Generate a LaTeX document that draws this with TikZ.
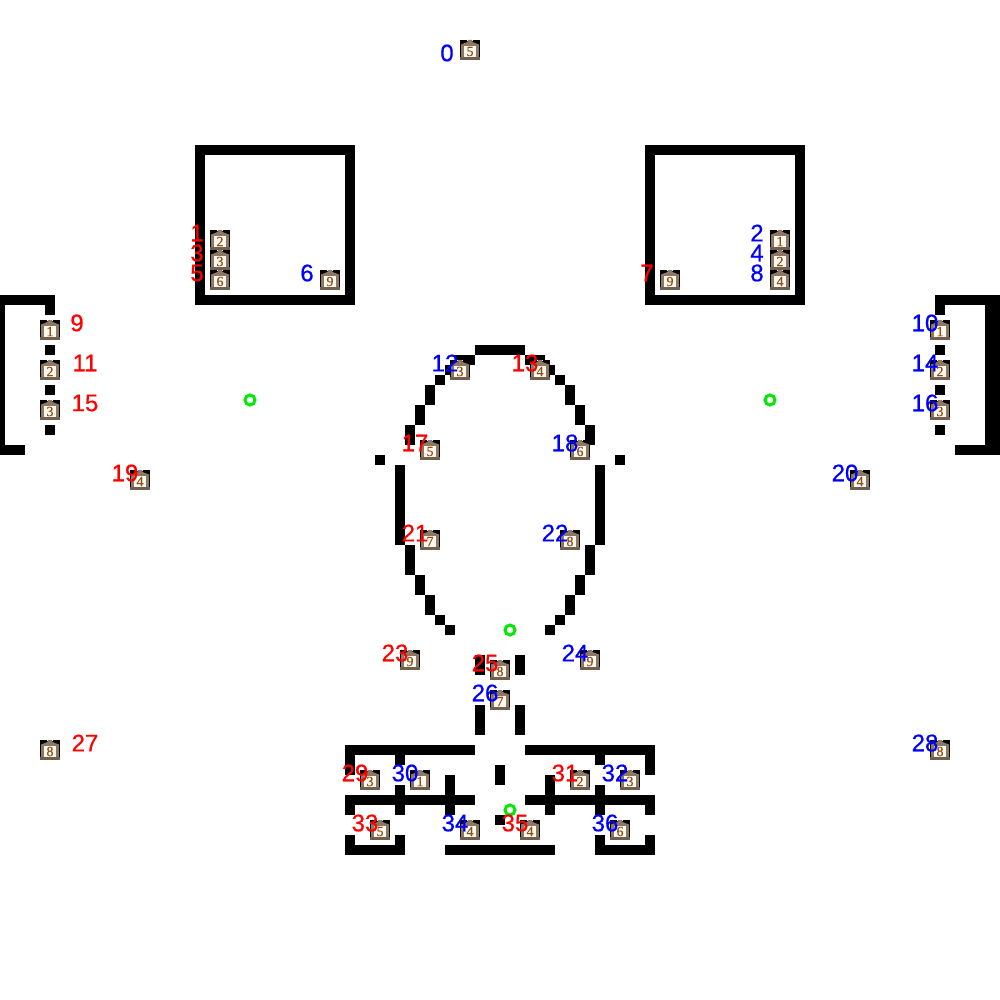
\documentclass[tikz,border=0pt]{standalone}
\usepackage{fontspec}
\setmainfont[FakeBold=0.6]{Liberation Sans}
\newfontfamily\digitfont[FakeBold=0.5]{Liberation Serif}
\definecolor{roofc}{RGB}{140,120,100}
\definecolor{basec}{RGB}{112,94,78}
\definecolor{panelc}{RGB}{255,248,236}
\definecolor{digitc}{RGB}{139,80,25}
\definecolor{ringc}{RGB}{0,235,0}
\tikzset{
  wallpart/.style={fill=black,draw=none},
  ring/.style={circle,draw=ringc,line width=3pt,fill=none,minimum size=10pt,inner sep=0pt},
  redlabel/.style={text=red,font=\fontsize{24}{24}\selectfont,inner sep=0pt},
  bluelabel/.style={text=blue,font=\fontsize{24}{24}\selectfont,inner sep=0pt},
  icondigit/.style={text=digitc,font=\digitfont\fontsize{14}{14}\selectfont,inner sep=0pt}
}
\newcommand{\W}[4]{\fill[wallpart] (#1,#2) rectangle (#3,#4);}
\newcommand{\Mirror}[4]{\W{#1}{#2}{#3}{#4}\W{\numexpr1000-#3\relax}{#2}{\numexpr1000-#1\relax}{#4}}
\newcommand{\Icon}[4]{%
  \begin{scope}[shift={(#2,#3)}]
    \fill[black] (-10,-10) rectangle (10,8);
    \fill[white] (-3,-10) rectangle (3,-9);
    \fill[roofc] (-2,-10) -- (2,-10) -- (2.5,-8) -- (9,-5.5) -- (9,-3) -- (-9,-3) -- (-9,-5.5) -- (-2.5,-8) -- cycle;
    \fill[roofc] (-9,-3) rectangle (9,8);
    \fill[basec] (-10,7) rectangle (10,10);
    \fill[panelc] (-6,-4) rectangle (6,7);
    \node[icondigit] (#1) at (0,1.5) {#4};
  \end{scope}}
\begin{document}
\begin{tikzpicture}[x=1pt,y=-1pt]
\useasboundingbox[fill=white] (0,0) rectangle (1000,1000);
% boxes
\W{195}{145}{355}{155}\W{195}{295}{355}{305}\W{195}{145}{205}{305}\W{345}{145}{355}{305}
\W{645}{145}{805}{155}\W{645}{295}{805}{305}\W{645}{145}{655}{305}\W{795}{145}{805}{305}
% left bracket
\W{0}{295}{55}{305}\W{45}{295}{55}{315}\W{0}{295}{5}{455}\W{0}{445}{25}{455}
\W{45}{345}{55}{355}\W{45}{385}{55}{395}\W{45}{425}{55}{435}
% right bracket
\W{935}{295}{1000}{305}\W{935}{295}{945}{315}\W{985}{295}{1000}{455}\W{955}{445}{1000}{455}
\W{935}{345}{945}{355}\W{935}{385}{945}{395}\W{935}{425}{945}{435}
% oval
\W{475}{345}{525}{355}
\Mirror{455}{355}{475}{365}
\Mirror{445}{365}{455}{375}
\Mirror{435}{375}{445}{385}
\Mirror{425}{385}{435}{405}
\Mirror{415}{405}{425}{425}
\Mirror{405}{425}{415}{445}
\Mirror{375}{455}{385}{465}
\Mirror{395}{465}{405}{545}
\Mirror{405}{545}{415}{575}
\Mirror{415}{575}{425}{595}
\Mirror{425}{595}{435}{615}
\Mirror{435}{615}{445}{625}
\Mirror{445}{625}{455}{635}
% stem
\Mirror{475}{655}{485}{675}
\Mirror{475}{705}{485}{735}
% lower rooms
\Mirror{345}{745}{475}{755}
\Mirror{345}{745}{355}{775}
\Mirror{395}{745}{405}{765}
\Mirror{395}{785}{405}{815}
\Mirror{445}{775}{455}{815}
\Mirror{345}{795}{475}{805}
\Mirror{345}{795}{355}{815}
\W{495}{765}{505}{785}
\W{495}{815}{505}{825}
\Mirror{345}{845}{405}{855}
\Mirror{345}{835}{355}{855}
\Mirror{395}{835}{405}{855}
\W{445}{845}{555}{855}
% rings
\node[ring] (g1) at (250,400) {};
\node[ring] (g2) at (770,400) {};
\node[ring] (g3) at (510,630) {};
\node[ring] (g4) at (510,810) {};
% icons
\Icon{i0}{470}{50}{5}
\Icon{i1}{220}{240}{2}\Icon{i2}{780}{240}{1}
\Icon{i3}{220}{260}{3}\Icon{i4}{780}{260}{2}
\Icon{i5}{220}{280}{6}\Icon{i8}{780}{280}{4}
\Icon{i6}{330}{280}{9}\Icon{i7}{670}{280}{9}
\Icon{i9}{50}{330}{1}\Icon{i10}{940}{330}{1}
\Icon{i11}{50}{370}{2}\Icon{i14}{940}{370}{2}
\Icon{i15}{50}{410}{3}\Icon{i16}{940}{410}{3}
\Icon{i12}{460}{370}{3}\Icon{i13}{540}{370}{4}
\Icon{i17}{430}{450}{5}\Icon{i18}{580}{450}{6}
\Icon{i19}{140}{480}{4}\Icon{i20}{860}{480}{4}
\Icon{i21}{430}{540}{7}\Icon{i22}{570}{540}{8}
\Icon{i23}{410}{660}{9}\Icon{i24}{590}{660}{9}
\Icon{i25}{500}{670}{8}\Icon{i26}{500}{700}{7}
\Icon{i27}{50}{750}{8}\Icon{i28}{940}{750}{8}
\Icon{i29}{370}{780}{3}\Icon{i30}{420}{780}{1}
\Icon{i31}{580}{780}{2}\Icon{i32}{630}{780}{3}
\Icon{i33}{380}{830}{5}\Icon{i34}{470}{830}{4}
\Icon{i35}{530}{830}{4}\Icon{i36}{620}{830}{6}
% labels
\node[bluelabel] (l0) at (447,53) {0};
\node[redlabel] (l1) at (197,233) {1};
\node[bluelabel] (l2) at (757,233) {2};
\node[redlabel] (l3) at (197,253) {3};
\node[bluelabel] (l4) at (757,253) {4};
\node[redlabel] (l5) at (197,273) {5};
\node[bluelabel] (l6) at (307,273) {6};
\node[redlabel] (l7) at (647,273) {7};
\node[bluelabel] (l8) at (757,273) {8};
\node[redlabel] (l9) at (77,323) {9};
\node[bluelabel] (l10) at (925,323) {10};
\node[redlabel] (l11) at (85,363) {11};
\node[bluelabel] (l12) at (445,363) {12};
\node[redlabel] (l13) at (525,363) {13};
\node[bluelabel] (l14) at (925,363) {14};
\node[redlabel] (l15) at (85,403) {15};
\node[bluelabel] (l16) at (925,403) {16};
\node[redlabel] (l17) at (415,443) {17};
\node[bluelabel] (l18) at (565,443) {18};
\node[redlabel] (l19) at (125,473) {19};
\node[bluelabel] (l20) at (845,473) {20};
\node[redlabel] (l21) at (415,533) {21};
\node[bluelabel] (l22) at (555,533) {22};
\node[redlabel] (l23) at (395,653) {23};
\node[bluelabel] (l24) at (575,653) {24};
\node[redlabel] (l25) at (485,663) {25};
\node[bluelabel] (l26) at (485,693) {26};
\node[redlabel] (l27) at (85,743) {27};
\node[bluelabel] (l28) at (925,743) {28};
\node[redlabel] (l29) at (355,773) {29};
\node[bluelabel] (l30) at (405,773) {30};
\node[redlabel] (l31) at (565,773) {31};
\node[bluelabel] (l32) at (615,773) {32};
\node[redlabel] (l33) at (365,823) {33};
\node[bluelabel] (l34) at (455,823) {34};
\node[redlabel] (l35) at (515,823) {35};
\node[bluelabel] (l36) at (605,823) {36};
\end{tikzpicture}
\end{document}
